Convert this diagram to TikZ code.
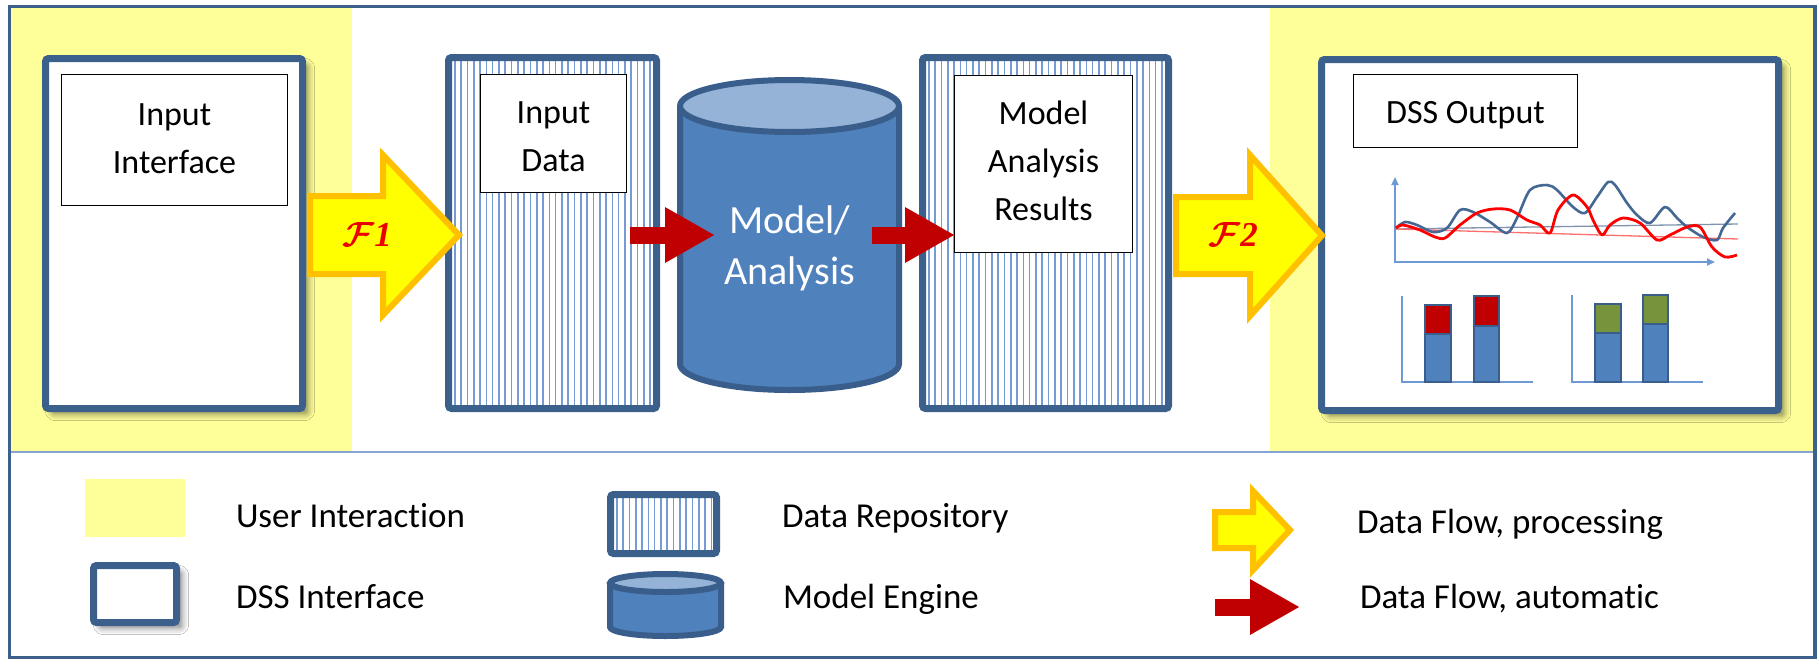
\documentclass[tikz,border=0pt]{standalone}
\usepackage{fontspec}
\setmainfont{Carlito}[Ligatures=NoCommon]
\newfontfamily\digitfont{Liberation Serif}
\usepackage{graphicx}
\usetikzlibrary{arrows.meta,shadows.blur}

\definecolor{frameblue}{RGB}{60,96,140}
\definecolor{stripeblue}{RGB}{118,155,212}
\definecolor{useryellow}{RGB}{255,255,153}
\definecolor{flowfill}{RGB}{255,255,0}
\definecolor{flowedge}{RGB}{255,192,0}
\definecolor{autored}{RGB}{192,0,0}
\definecolor{cylfill}{RGB}{79,129,189}
\definecolor{cyltop}{RGB}{149,179,215}
\definecolor{cyledge}{RGB}{58,94,140}
\definecolor{axisblue}{RGB}{110,153,210}
\definecolor{seriesblue}{RGB}{68,103,148}
\definecolor{trendblue}{RGB}{128,148,175}
\definecolor{trendred}{RGB}{255,110,110}
\definecolor{bargreen}{RGB}{119,147,60}
\definecolor{dividerblue}{RGB}{134,165,211}
\definecolor{flamered}{RGB}{235,0,0}

\newcommand{\labelsize}{\fontsize{34}{48}\selectfont}
\newcommand{\keysize}{\fontsize{35}{40}\selectfont}
\newcommand{\enginesize}{\fontsize{40}{51}\selectfont}
\newcommand{\flowmark}[1]{\scalebox{3.5}{\boldmath$\mathcal{F}${\digitfont\bfseries\itshape #1}}}
% move a caption line without changing the box it occupies
\newcommand{\nudge}[2]{\raisebox{#1}[\height][\depth]{#2}}

\begin{document}
\begin{tikzpicture}[x=1pt, y=-1pt,
  every node/.style={inner sep=0pt, outer sep=0pt},
  dss panel/.style={draw=frameblue, line width=7pt, fill=white, rounded corners=3pt,
    blur shadow={shadow xshift=6pt, shadow yshift=-6pt, shadow blur radius=6pt, shadow opacity=45}},
  stripeline/.style={draw=stripeblue, line width=1.6pt},
  repository/.style={draw=frameblue, line width=7pt, fill=white, rounded corners=3pt,
    path picture={\foreach \k in {1,...,42}{\draw[stripeline] ([xshift=\k*6.3pt]path picture bounding box.south west) -- ([xshift=\k*6.3pt]path picture bounding box.north west);}}},
  caption box/.style={draw=black, line width=1.2pt, fill=white, align=center, font=\labelsize},
  key text/.style={anchor=base west, font=\keysize},
  proc flow/.style={draw=flowedge, fill=flowfill, line width=6pt, line join=miter},
  auto flow/.style={draw=autored, line width=17pt, -{Triangle[length=50pt, width=52pt]}},
  engine body/.style={draw=cyledge, fill=cylfill, line width=6pt},
  engine lid/.style={draw=cyledge, fill=cyltop, line width=6pt},
  chart axis/.style={draw=axisblue, line width=1.8pt},
  axis tip/.style={{Triangle[length=8pt, width=7pt]}-{Triangle[length=8pt, width=7pt]}},
  series a/.style={draw=seriesblue, line width=2.6pt, line join=round},
  series b/.style={draw=red, line width=2.8pt, line join=round},
  bar edge/.style={draw=cyledge, line width=1.5pt}
]
% page, user interaction zones, frame
\fill[white] (0,0) rectangle (1819,659);
\useasboundingbox (0,0) rectangle (1819,659);
\fill[useryellow] (10,8) rectangle (352,451);
\fill[useryellow] (1270,8) rectangle (1813,451);
\draw[dividerblue, line width=2pt] (10,452) -- (1813,452);
\draw[frameblue, line width=3.5pt] (9.5,6.5) rectangle (1815,657.5);

% main panels
\node[dss panel, minimum width=257pt, minimum height=350pt] (iface) at (174,233.5) {};
\node[repository, minimum width=208pt, minimum height=351pt] (indata) at (552.5,233) {};
\node[repository, minimum width=246pt, minimum height=351pt] (results) at (1045.5,233) {};
\node[dss panel, minimum width=457pt, minimum height=351pt] (output) at (1550,235) {};

% captions
\node[caption box, minimum width=226pt, minimum height=131pt] (ifacelabel) at (174.5,140) {\nudge{1pt}{Input}\\\nudge{1pt}{Interface}};
\node[caption box, minimum width=146pt, minimum height=118pt] (indatalabel) at (553.5,133.5) {\nudge{-3pt}{Input}\\\nudge{-3pt}{Data}};
\node[caption box, minimum width=178pt, minimum height=177pt] (resultslabel) at (1043.5,164) {\raisebox{6pt}{Model}\\\raisebox{6pt}{Analysis}\\\raisebox{6pt}{Results}};
\node[caption box, minimum width=224pt, minimum height=73pt] (outputlabel) at (1465.5,111) {\nudge{-4pt}{DSS Output}};

% model engine
\path[engine body] (680,106) -- (680,364) arc[start angle=180, end angle=0, x radius=109.5, y radius=26] -- (899,106);
\path[engine lid] (789.5,106) ellipse[x radius=109.5, y radius=26];
\node[minimum width=225pt, minimum height=316pt] (engine) at (789.5,235) {};
\node[font=\enginesize, text=white, align=center] (enginetext) at (789.5,248) {Model/\\Analysis};

% automatic data flows
\draw[auto flow] ([xshift=-26.5pt, yshift=-2pt]indata.east) -- ([xshift=38pt]engine.west);
\draw[auto flow] ([xshift=-30pt]engine.east) -- ([xshift=32.5pt, yshift=-2pt]results.west);

% processing data flows
\path[proc flow] (310,196) -- (383,196) -- (383,155) -- (459,235) -- (383,315) -- (383,274) -- (310,274) -- cycle;
\node[text=flamered] (flowone) at (367,234) {\flowmark{1}};
\path[proc flow] (1176,197) -- (1250,197) -- (1250,155) -- (1322,235.5) -- (1250,316) -- (1250,274) -- (1176,274) -- cycle;
\node[text=flamered] (flowtwo) at (1233,234) {\flowmark{2}};

% line chart
\draw[chart axis, axis tip] (1395,177) -- (1395,262) -- (1715,262);
\draw[trendblue, line width=1.3pt] (1396,229) -- (1738,224);
\draw[trendred, line width=1.3pt] (1396,229) -- (1738,239);
\draw[series a] plot[smooth, tension=0.5] coordinates {(1396,228) (1405,222) (1417,225) (1433,232) (1447,228) (1460,210) (1473,212) (1490,222) (1507,233) (1517,218) (1530,190) (1547,185) (1557,190) (1573,207) (1585,213) (1597,197) (1608,182) (1615,185) (1627,203) (1637,215) (1650,223) (1665,207) (1677,218) (1687,227) (1703,237) (1717,240) (1723,228) (1735,213)};
\draw[series b] plot[smooth, tension=0.5] coordinates {(1396,228) (1403,225) (1420,230) (1435,237) (1445,238) (1460,225) (1477,213) (1493,209) (1510,210) (1527,220) (1540,225) (1550,233) (1558,210) (1573,195) (1587,207) (1593,220) (1602,235) (1610,225) (1623,218) (1640,223) (1657,240) (1670,235) (1687,227) (1700,227) (1712,247) (1725,257) (1737,255)};

% stacked bar charts
\draw[chart axis] (1402,296) -- (1402,382) -- (1533,382);
\draw[bar edge, fill=cylfill] (1425,334) rectangle (1451,382);
\draw[bar edge, fill=autored] (1425,305) rectangle (1451,334);
\draw[bar edge, fill=cylfill] (1474,326) rectangle (1499,382);
\draw[bar edge, fill=autored] (1474,296) rectangle (1499,326);
\draw[chart axis] (1572,295) -- (1572,382) -- (1703,382);
\draw[bar edge, fill=cylfill] (1595,333) rectangle (1621,382);
\draw[bar edge, fill=bargreen] (1595,304) rectangle (1621,333);
\draw[bar edge, fill=cylfill] (1643,324) rectangle (1668,382);
\draw[bar edge, fill=bargreen] (1643,295) rectangle (1668,324);

% key
\node[fill=useryellow, minimum width=100pt, minimum height=58pt] (keyuser) at (135,508) {};
\node[key text] (keyusertext) at (236,527) {User Interaction};
\node[dss panel, minimum width=83pt, minimum height=57pt] (keyiface) at (135,594) {};
\node[key text] (keyifacetext) at (236,608) {DSS Interface};
\node[repository, minimum width=106pt, minimum height=59pt] (keyrepo) at (663.5,524) {};
\node[key text] (keyrepotext) at (782,527) {Data Repository};
\path[engine body] (610,583) -- (610,627) arc[start angle=180, end angle=0, x radius=55.5, y radius=9] -- (721,583);
\path[engine lid] (665.5,583) ellipse[x radius=55.5, y radius=9];
\node[key text] (keyenginetext) at (783,608) {Model Engine};
\path[proc flow] (1215,512) -- (1253,512) -- (1253,491) -- (1290,530) -- (1253,570) -- (1253,548) -- (1215,548) -- cycle;
\node[key text] (keyproctext) at (1357,533) {Data Flow, processing};
\coordinate (autofrom) at (1215,607);
\coordinate (autoto) at (1300,607);
\draw[auto flow] (autofrom) -- (autoto);
\node[key text] (keyautotext) at (1360,608) {Data Flow, automatic};
\end{tikzpicture}
\end{document}
